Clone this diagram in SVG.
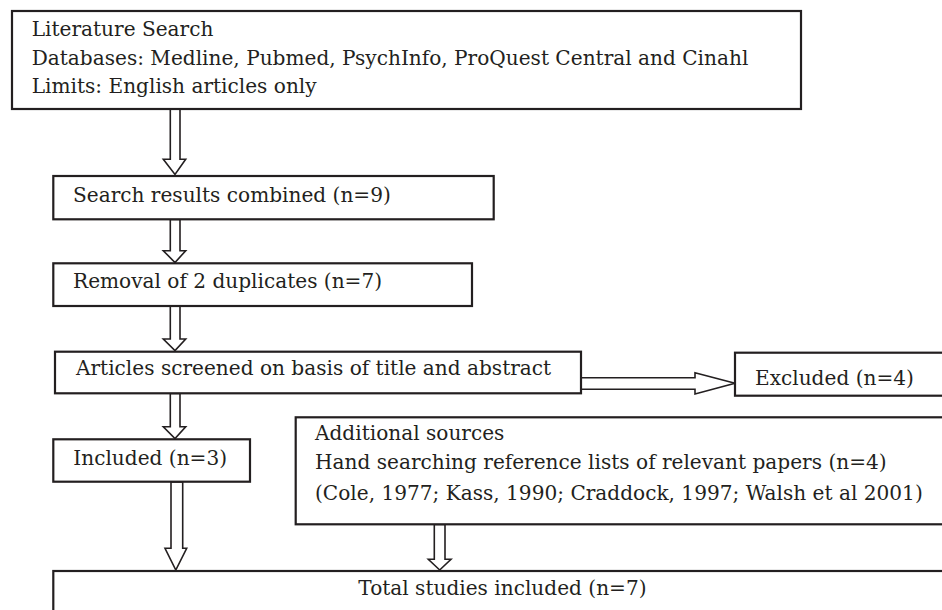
<svg xmlns="http://www.w3.org/2000/svg" width="942" height="610" viewBox="0 0 942 610">
<style>
.box{fill:#fff;stroke:#231f20;stroke-width:2.2}
.arr{fill:#fff;stroke:#231f20;stroke-width:1.6;stroke-linejoin:miter}
.t{font-family:"DejaVu Serif","Liberation Serif",serif;font-size:20.1px;fill:#231f20}
</style>
<rect width="942" height="610" fill="#fff"/>
<g id="connectors">
<polygon class="arr" points="170.3,109 180,109 180,159.3 185.7,159.3 175,174.5 163.3,159.3 170.3,159.3"/>
<polygon class="arr" points="170.3,219.5 180,219.5 180,250.7 185.7,250.7 175,262.5 163.3,250.7 170.3,250.7"/>
<polygon class="arr" points="170.3,306 180,306 180,339 185.7,339 175,350.5 163.3,339 170.3,339"/>
<polygon class="arr" points="581,377.7 695,377.7 695,372.7 735,383.3 695,394 695,389.3 581,389.3"/>
<polygon class="arr" points="170.3,393.5 180,393.5 180,426.7 185.7,426.7 175,438.5 163.3,426.7 170.3,426.7"/>
<polygon class="arr" points="171,482 182.7,482 182.7,548.3 186.7,548.3 175.8,570 165,548.3 171,548.3"/>
<polygon class="arr" points="434.3,524.5 445,524.5 445,559.3 451,559.3 439.7,570 428.3,559.3 434.3,559.3"/>
</g>
<g id="literature-search">
<rect class="box" x="12" y="11" width="789" height="98"/>
<text class="t" x="31.7" y="35.7">Literature Search</text>
<text class="t" x="31.7" y="64.5">Databases: Medline, Pubmed, PsychInfo, ProQuest Central and Cinahl</text>
<text class="t" x="31.7" y="93.3">Limits: English articles only</text>
</g>
<g id="combined">
<rect class="box" x="53.3" y="176" width="440.4" height="43.3"/>
<text class="t" x="73" y="201.7">Search results combined (n=9)</text>
</g>
<g id="duplicates">
<rect class="box" x="53.3" y="263.3" width="418.7" height="42.7"/>
<text class="t" x="73" y="288">Removal of 2 duplicates (n=7)</text>
</g>
<g id="screened">
<rect class="box" x="55" y="351.7" width="526" height="41.6"/>
<text class="t" x="76" y="375">Articles screened on basis of title and abstract</text>
</g>
<g id="excluded">
<rect class="box" x="735" y="352.7" width="215" height="43"/>
<text class="t" x="755" y="385">Excluded (n=4)</text>
</g>
<g id="included">
<rect class="box" x="53.3" y="439.3" width="196.7" height="42.4"/>
<text class="t" x="73.3" y="465">Included (n=3)</text>
</g>
<g id="additional">
<rect class="box" x="295.7" y="417.3" width="660" height="107"/>
<text class="t" x="315" y="440">Additional sources</text>
<text class="t" x="315" y="469">Hand searching reference lists of relevant papers (n=4)</text>
<text class="t" x="315" y="499.5">(Cole, 1977; Kass, 1990; Craddock, 1997; Walsh et al 2001)</text>
</g>
<g id="total">
<rect class="box" x="53.3" y="571" width="900" height="60"/>
<text class="t" x="358.3" y="595">Total studies included (n=7)</text>
</g>
</svg>
